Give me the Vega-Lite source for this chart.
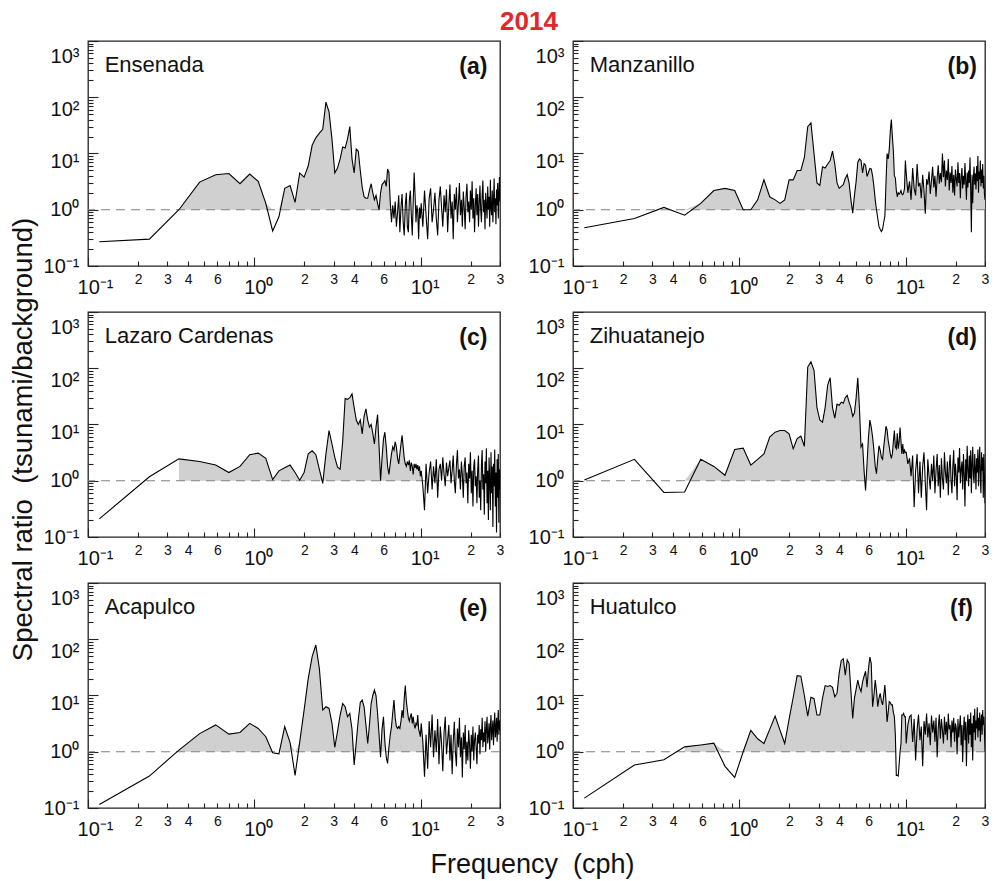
{
"$schema":"https://vega.github.io/schema/vega-lite/v6.json",
"background":"white",
"padding":{"left":8,"top":8,"right":5,"bottom":5},
"title":{"text":"2014","color":"#e3262b","fontSize":26,"fontWeight":"bold","font":"Liberation Sans","anchor":"middle","dx":30,"offset":-16,"baseline":"alphabetic"},
"bounds":"flush",
"columns":2,
"spacing":{"row":46,"column":73},
"datasets":{
"ensenada":[{"f":0.117,"v":0.27},{"f":0.234,"v":0.3},{"f":0.352,"v":1},{"f":0.469,"v":3.1},{"f":0.586,"v":4.2},{"f":0.703,"v":4.4},{"f":0.82,"v":2.9},{"f":0.938,"v":4.3},{"f":1.055,"v":3.2},{"f":1.172,"v":1.3},
{"f":1.289,"v":0.42},{"f":1.406,"v":0.75},{"f":1.523,"v":2.4},{"f":1.641,"v":2.7},{"f":1.758,"v":1.35},{"f":1.875,"v":4.5},{"f":1.992,"v":3.8},{"f":2.109,"v":6},{"f":2.227,"v":14},{"f":2.344,"v":19},
{"f":2.461,"v":23},{"f":2.578,"v":27},{"f":2.695,"v":82},{"f":2.813,"v":55},{"f":2.93,"v":18},{"f":3.047,"v":4.5},{"f":3.164,"v":5.5},{"f":3.281,"v":8},{"f":3.398,"v":13},{"f":3.516,"v":12.5},
{"f":3.633,"v":18},{"f":3.75,"v":30},{"f":3.867,"v":8},{"f":3.984,"v":4.5},{"f":4.102,"v":12},{"f":4.219,"v":11},{"f":4.336,"v":5},{"f":4.453,"v":2.5},{"f":4.57,"v":1.7},{"f":4.688,"v":1.6},
{"f":4.805,"v":1.6},{"f":4.922,"v":2.2},{"f":5.039,"v":2.9},{"f":5.156,"v":2},{"f":5.273,"v":1.5},{"f":5.391,"v":1.8},{"f":5.508,"v":1.3},{"f":5.625,"v":1},{"f":5.742,"v":2},{"f":5.859,"v":2.8},
{"f":5.977,"v":3},{"f":6.094,"v":3.3},{"f":6.211,"v":2.6},{"f":6.328,"v":5.3},{"f":6.445,"v":4.6},{"f":6.563,"v":1.4},{"f":6.68,"v":0.6},{"f":6.797,"v":1.2},{"f":6.914,"v":0.7},{"f":7.031,"v":1.4},
{"f":7.148,"v":0.5},{"f":7.266,"v":0.9},{"f":7.383,"v":1.8},{"f":7.5,"v":0.4},{"f":7.617,"v":1.1},{"f":7.734,"v":1.9},{"f":7.852,"v":0.6},{"f":7.969,"v":0.35},{"f":8.086,"v":1.2},{"f":8.203,"v":2},
{"f":8.32,"v":0.5},{"f":8.438,"v":0.4},{"f":8.555,"v":1.5},{"f":8.672,"v":2.2},{"f":8.789,"v":0.8},{"f":8.906,"v":0.35},{"f":9.023,"v":1.4},{"f":9.141,"v":4.6},{"f":9.258,"v":1.8},{"f":9.375,"v":0.6},
{"f":9.492,"v":1.2},{"f":9.609,"v":0.9},{"f":9.727,"v":0.3},{"f":9.844,"v":1.1},{"f":9.961,"v":0.7},
{"f":10.08,"v":1.3},{"f":10.31,"v":0.5},{"f":10.55,"v":2.2},{"f":10.78,"v":0.8},{"f":11.02,"v":0.3},{"f":11.25,"v":1.6},{"f":11.48,"v":2.4},{"f":11.72,"v":0.6},{"f":11.95,"v":1},{"f":12.19,"v":2},
{"f":12.42,"v":0.7},{"f":12.66,"v":0.35},{"f":12.89,"v":1.5},{"f":13.13,"v":2.6},{"f":13.36,"v":1.1},{"f":13.59,"v":0.5},{"f":13.83,"v":1.8},{"f":14.06,"v":0.9},{"f":14.3,"v":2.3},{"f":14.53,"v":0.4},
{"f":14.77,"v":1.2},{"f":15,"v":2.8},{"f":15.23,"v":0.7},{"f":15.47,"v":1.4},{"f":15.7,"v":0.3},{"f":15.94,"v":1.9},{"f":16.17,"v":1},{"f":16.41,"v":2.5},{"f":16.64,"v":0.6},{"f":16.88,"v":1.3},
{"f":17.11,"v":3},{"f":17.34,"v":0.8},{"f":17.58,"v":1.5},{"f":17.81,"v":0.5},{"f":18.05,"v":2.1},{"f":18.28,"v":1.1},{"f":18.52,"v":0.45},{"f":18.75,"v":1.7},{"f":18.98,"v":2.9},{"f":19.22,"v":0.9},
{"f":19.45,"v":1.4},{"f":19.69,"v":0.6},{"f":19.92,"v":2.2},{"f":20.16,"v":1},{"f":20.39,"v":3.2},{"f":20.63,"v":0.7},{"f":20.86,"v":1.6},{"f":21.09,"v":0.4},{"f":21.33,"v":1.2},{"f":21.56,"v":2.4},
{"f":21.8,"v":0.8},{"f":22.03,"v":1.9},{"f":22.27,"v":0.5},{"f":22.5,"v":1.3},{"f":22.73,"v":2.7},{"f":22.97,"v":1},{"f":23.2,"v":0.6},{"f":23.44,"v":1.8},{"f":23.67,"v":3.3},{"f":23.91,"v":0.9},
{"f":24.14,"v":1.5},{"f":24.38,"v":0.45},{"f":24.61,"v":2},{"f":24.84,"v":1.2},{"f":25.08,"v":0.7},{"f":25.31,"v":2.6},{"f":25.55,"v":1},{"f":25.78,"v":1.7},{"f":26.02,"v":0.5},{"f":26.25,"v":3.4},
{"f":26.48,"v":1.1},{"f":26.72,"v":0.8},{"f":26.95,"v":2.2},{"f":27.19,"v":0.6},{"f":27.42,"v":1.4},{"f":27.66,"v":3.6},{"f":27.89,"v":0.9},{"f":28.13,"v":1.6},{"f":28.36,"v":0.55},{"f":28.59,"v":2.3},
{"f":28.83,"v":1.2},{"f":29.06,"v":3},{"f":29.3,"v":0.7},{"f":29.53,"v":1.8},{"f":29.77,"v":3.8},{"f":30,"v":1.4}],
"manzanillo":[{"f":0.117,"v":0.48},{"f":0.234,"v":0.7},{"f":0.352,"v":1.1},{"f":0.469,"v":0.8},{"f":0.586,"v":1.3},{"f":0.703,"v":2.2},{"f":0.82,"v":2.4},{"f":0.938,"v":2.2},{"f":1.055,"v":1},{"f":1.172,"v":1},
{"f":1.289,"v":1.5},{"f":1.406,"v":3.4},{"f":1.523,"v":1.7},{"f":1.641,"v":1.5},{"f":1.758,"v":1.3},{"f":1.875,"v":1.5},{"f":1.992,"v":3.4},{"f":2.109,"v":3.4},{"f":2.227,"v":5},{"f":2.344,"v":5},
{"f":2.461,"v":8.5},{"f":2.578,"v":30},{"f":2.695,"v":35},{"f":2.813,"v":10},{"f":2.93,"v":3},{"f":3.047,"v":2.7},{"f":3.164,"v":5.8},{"f":3.281,"v":5.5},{"f":3.398,"v":6.5},{"f":3.516,"v":7.5},
{"f":3.633,"v":11},{"f":3.75,"v":6.5},{"f":3.867,"v":3},{"f":3.984,"v":2.4},{"f":4.102,"v":2.6},{"f":4.219,"v":2.8},{"f":4.336,"v":3.6},{"f":4.453,"v":4.2},{"f":4.57,"v":3},{"f":4.688,"v":1.5},
{"f":4.805,"v":0.87},{"f":4.922,"v":1.8},{"f":5.039,"v":3.2},{"f":5.156,"v":7},{"f":5.273,"v":8},{"f":5.391,"v":7.5},{"f":5.508,"v":4.5},{"f":5.625,"v":6.6},{"f":5.742,"v":6.2},{"f":5.859,"v":3.9},
{"f":5.977,"v":4.6},{"f":6.094,"v":5.4},{"f":6.211,"v":5.3},{"f":6.328,"v":4},{"f":6.445,"v":2.6},{"f":6.563,"v":1.5},{"f":6.68,"v":1},{"f":6.797,"v":0.7},{"f":6.914,"v":0.5},{"f":7.031,"v":0.45},
{"f":7.148,"v":0.41},{"f":7.266,"v":0.45},{"f":7.383,"v":0.6},{"f":7.5,"v":0.76},{"f":7.617,"v":3},{"f":7.734,"v":10},{"f":7.852,"v":8},{"f":7.969,"v":11.7},{"f":8.086,"v":25},{"f":8.203,"v":40},
{"f":8.32,"v":20},{"f":8.438,"v":11},{"f":8.555,"v":4},{"f":8.672,"v":3.7},{"f":8.789,"v":2.2},{"f":8.906,"v":1.7},{"f":9.023,"v":2},{"f":9.141,"v":1.9},{"f":9.258,"v":2},{"f":9.375,"v":2.2},
{"f":9.492,"v":1.9},{"f":9.609,"v":1.85},{"f":9.727,"v":2},{"f":9.844,"v":2.4},{"f":9.961,"v":7.5},
{"f":10.08,"v":4.5},{"f":10.31,"v":2},{"f":10.55,"v":3.2},{"f":10.78,"v":1.5},{"f":11.02,"v":5.5},{"f":11.25,"v":2.4},{"f":11.48,"v":1.8},{"f":11.72,"v":6.5},{"f":11.95,"v":2.6},{"f":12.19,"v":3},
{"f":12.42,"v":1.6},{"f":12.66,"v":4.2},{"f":12.89,"v":2.2},{"f":13.13,"v":0.85},{"f":13.36,"v":3.5},{"f":13.59,"v":2.8},{"f":13.83,"v":4.8},{"f":14.06,"v":1.9},{"f":14.3,"v":3.3},{"f":14.53,"v":5.8},
{"f":14.77,"v":2.5},{"f":15,"v":4},{"f":15.23,"v":1.7},{"f":15.47,"v":3.6},{"f":15.7,"v":6.2},{"f":15.94,"v":2.9},{"f":16.17,"v":4.5},{"f":16.41,"v":3.1},{"f":16.64,"v":10},{"f":16.88,"v":3.8},
{"f":17.11,"v":7.5},{"f":17.34,"v":2.6},{"f":17.58,"v":5},{"f":17.81,"v":3.4},{"f":18.05,"v":8},{"f":18.28,"v":2.2},{"f":18.52,"v":4.6},{"f":18.75,"v":3},{"f":18.98,"v":6},{"f":19.22,"v":2},
{"f":19.45,"v":4.2},{"f":19.69,"v":1.8},{"f":19.92,"v":5.2},{"f":20.16,"v":3.5},{"f":20.39,"v":2.6},{"f":20.63,"v":7},{"f":20.86,"v":3},{"f":21.09,"v":4.5},{"f":21.33,"v":1.6},{"f":21.56,"v":3.8},
{"f":21.8,"v":5.5},{"f":22.03,"v":2.4},{"f":22.27,"v":4},{"f":22.5,"v":2.8},{"f":22.73,"v":6.8},{"f":22.97,"v":3.2},{"f":23.2,"v":1.5},{"f":23.44,"v":4.6},{"f":23.67,"v":2.5},{"f":23.91,"v":5},
{"f":24.14,"v":3},{"f":24.38,"v":8.5},{"f":24.61,"v":2.2},{"f":24.84,"v":0.4},{"f":25.08,"v":4.2},{"f":25.31,"v":1.3},{"f":25.55,"v":3.6},{"f":25.78,"v":5.8},{"f":26.02,"v":2.8},{"f":26.25,"v":4.4},
{"f":26.48,"v":2.3},{"f":26.72,"v":6},{"f":26.95,"v":3.2},{"f":27.19,"v":9},{"f":27.42,"v":2},{"f":27.66,"v":4.8},{"f":27.89,"v":3.5},{"f":28.13,"v":7.5},{"f":28.36,"v":2.6},{"f":28.59,"v":5.2},
{"f":28.83,"v":3},{"f":29.06,"v":6.5},{"f":29.3,"v":2.4},{"f":29.53,"v":4},{"f":29.77,"v":1.9},{"f":30,"v":1.5}],
"lazaro":[{"f":0.117,"v":0.21},{"f":0.234,"v":1.18},{"f":0.352,"v":2.45},{"f":0.469,"v":2.2},{"f":0.586,"v":1.9},{"f":0.703,"v":1.4},{"f":0.82,"v":1.8},{"f":0.938,"v":2.9},{"f":1.055,"v":3.1},{"f":1.172,"v":2.5},
{"f":1.289,"v":1.05},{"f":1.406,"v":1.5},{"f":1.523,"v":1.7},{"f":1.641,"v":1.9},{"f":1.758,"v":1.4},{"f":1.875,"v":1.02},{"f":1.992,"v":1.4},{"f":2.109,"v":3},{"f":2.227,"v":3.4},{"f":2.344,"v":2.9},
{"f":2.461,"v":1.6},{"f":2.578,"v":0.9},{"f":2.695,"v":3},{"f":2.813,"v":7.8},{"f":2.93,"v":4.5},{"f":3.047,"v":2.6},{"f":3.164,"v":1.75},{"f":3.281,"v":1.6},{"f":3.398,"v":5},{"f":3.516,"v":29},
{"f":3.633,"v":28},{"f":3.75,"v":30},{"f":3.867,"v":35},{"f":3.984,"v":20},{"f":4.102,"v":12},{"f":4.219,"v":10},{"f":4.336,"v":12},{"f":4.453,"v":6.8},{"f":4.57,"v":14},{"f":4.688,"v":19},
{"f":4.805,"v":12},{"f":4.922,"v":9},{"f":5.039,"v":10},{"f":5.156,"v":7},{"f":5.273,"v":4.5},{"f":5.391,"v":9},{"f":5.508,"v":15},{"f":5.625,"v":4},{"f":5.742,"v":1},{"f":5.859,"v":2.5},
{"f":5.977,"v":5.5},{"f":6.094,"v":7.3},{"f":6.211,"v":4},{"f":6.328,"v":1.8},{"f":6.445,"v":1.3},{"f":6.563,"v":2},{"f":6.68,"v":3},{"f":6.797,"v":4},{"f":6.914,"v":3.5},{"f":7.031,"v":4.9},
{"f":7.148,"v":4},{"f":7.266,"v":2.5},{"f":7.383,"v":2},{"f":7.5,"v":3},{"f":7.617,"v":4.5},{"f":7.734,"v":6.4},{"f":7.852,"v":4},{"f":7.969,"v":2.5},{"f":8.086,"v":2},{"f":8.203,"v":1.8},
{"f":8.32,"v":2.2},{"f":8.438,"v":1.9},{"f":8.555,"v":2.3},{"f":8.672,"v":1.5},{"f":8.789,"v":2.1},{"f":8.906,"v":1.8},{"f":9.023,"v":1.3},{"f":9.141,"v":2},{"f":9.258,"v":1.7},{"f":9.375,"v":2},
{"f":9.492,"v":1.6},{"f":9.609,"v":1.9},{"f":9.727,"v":1.5},{"f":9.844,"v":1.8},{"f":9.961,"v":1.2},
{"f":10.08,"v":1.5},{"f":10.31,"v":0.8},{"f":10.55,"v":0.3},{"f":10.78,"v":2},{"f":11.02,"v":0.6},{"f":11.25,"v":1.4},{"f":11.48,"v":2.2},{"f":11.72,"v":0.7},{"f":11.95,"v":1.8},{"f":12.19,"v":0.9},
{"f":12.42,"v":2.4},{"f":12.66,"v":0.5},{"f":12.89,"v":1.6},{"f":13.13,"v":2},{"f":13.36,"v":1},{"f":13.59,"v":2.6},{"f":13.83,"v":1.3},{"f":14.06,"v":0.8},{"f":14.3,"v":2.1},{"f":14.53,"v":1.2},
{"f":14.77,"v":1.7},{"f":15,"v":2.3},{"f":15.23,"v":0.9},{"f":15.47,"v":1.5},{"f":15.7,"v":2.8},{"f":15.94,"v":1},{"f":16.17,"v":0.6},{"f":16.41,"v":1.9},{"f":16.64,"v":3.5},{"f":16.88,"v":1.1},
{"f":17.11,"v":1.6},{"f":17.34,"v":0.7},{"f":17.58,"v":2.2},{"f":17.81,"v":1.3},{"f":18.05,"v":0.5},{"f":18.28,"v":1.8},{"f":18.52,"v":2.6},{"f":18.75,"v":0.9},{"f":18.98,"v":1.4},{"f":19.22,"v":0.4},
{"f":19.45,"v":2},{"f":19.69,"v":1.1},{"f":19.92,"v":3.2},{"f":20.16,"v":0.6},{"f":20.39,"v":1.5},{"f":20.63,"v":0.35},{"f":20.86,"v":1.8},{"f":21.09,"v":2.4},{"f":21.33,"v":0.8},{"f":21.56,"v":1.2},
{"f":21.8,"v":0.4},{"f":22.03,"v":1.6},{"f":22.27,"v":2.8},{"f":22.5,"v":0.5},{"f":22.73,"v":1},{"f":22.97,"v":0.3},{"f":23.2,"v":1.9},{"f":23.44,"v":3.5},{"f":23.67,"v":0.7},{"f":23.91,"v":1.3},
{"f":24.14,"v":0.25},{"f":24.38,"v":2.2},{"f":24.61,"v":0.9},{"f":24.84,"v":3.8},{"f":25.08,"v":0.4},{"f":25.31,"v":1.5},{"f":25.55,"v":0.2},{"f":25.78,"v":2.6},{"f":26.02,"v":1},{"f":26.25,"v":0.3},
{"f":26.48,"v":3.2},{"f":26.72,"v":0.6},{"f":26.95,"v":1.8},{"f":27.19,"v":0.15},{"f":27.42,"v":2},{"f":27.66,"v":0.8},{"f":27.89,"v":3.6},{"f":28.13,"v":0.35},{"f":28.36,"v":1.4},{"f":28.59,"v":0.12},
{"f":28.83,"v":2.4},{"f":29.06,"v":0.5},{"f":29.3,"v":3},{"f":29.53,"v":0.18},{"f":29.77,"v":1.6},{"f":30,"v":0.7}],
"zihuatanejo":[{"f":0.117,"v":1.03},{"f":0.234,"v":2.4},{"f":0.352,"v":0.62},{"f":0.469,"v":0.63},{"f":0.586,"v":2.4},{"f":0.703,"v":1.8},{"f":0.82,"v":1.25},{"f":0.938,"v":3.6},{"f":1.055,"v":3.8},{"f":1.172,"v":1.9},
{"f":1.289,"v":2.4},{"f":1.406,"v":3},{"f":1.523,"v":6},{"f":1.641,"v":7.3},{"f":1.758,"v":7.8},{"f":1.875,"v":7.8},{"f":1.992,"v":6.8},{"f":2.109,"v":3.7},{"f":2.227,"v":5.6},{"f":2.344,"v":6.2},
{"f":2.461,"v":4.1},{"f":2.578,"v":105},{"f":2.695,"v":130},{"f":2.813,"v":92},{"f":2.93,"v":20},{"f":3.047,"v":12},{"f":3.164,"v":11},{"f":3.281,"v":20},{"f":3.398,"v":50},{"f":3.516,"v":68},
{"f":3.633,"v":20},{"f":3.75,"v":13},{"f":3.867,"v":23},{"f":3.984,"v":22},{"f":4.102,"v":25},{"f":4.219,"v":24},{"f":4.336,"v":30},{"f":4.453,"v":33},{"f":4.57,"v":25},{"f":4.688,"v":20},
{"f":4.805,"v":14},{"f":4.922,"v":16},{"f":5.039,"v":30},{"f":5.156,"v":68},{"f":5.273,"v":20},{"f":5.391,"v":4},{"f":5.508,"v":4.5},{"f":5.625,"v":1.5},{"f":5.742,"v":0.67},{"f":5.859,"v":2},
{"f":5.977,"v":6},{"f":6.094,"v":12},{"f":6.211,"v":9},{"f":6.328,"v":6},{"f":6.445,"v":3.5},{"f":6.563,"v":1.8},{"f":6.68,"v":1.33},{"f":6.797,"v":2.5},{"f":6.914,"v":4.2},{"f":7.031,"v":3.5},
{"f":7.148,"v":2.6},{"f":7.266,"v":2.4},{"f":7.383,"v":4},{"f":7.5,"v":6},{"f":7.617,"v":9.3},{"f":7.734,"v":8},{"f":7.852,"v":5.2},{"f":7.969,"v":4},{"f":8.086,"v":3},{"f":8.203,"v":2.5},
{"f":8.32,"v":3},{"f":8.438,"v":5},{"f":8.555,"v":7.8},{"f":8.672,"v":4},{"f":8.789,"v":3.7},{"f":8.906,"v":7},{"f":9.023,"v":3.7},{"f":9.141,"v":5},{"f":9.258,"v":8.8},{"f":9.375,"v":5},
{"f":9.492,"v":3},{"f":9.609,"v":4.5},{"f":9.727,"v":3},{"f":9.844,"v":3.5},{"f":9.961,"v":3.2},
{"f":10.08,"v":3.2},{"f":10.31,"v":2},{"f":10.55,"v":2.5},{"f":10.78,"v":1.2},{"f":11.02,"v":2.8},{"f":11.25,"v":0.34},{"f":11.48,"v":1.5},{"f":11.72,"v":3},{"f":11.95,"v":0.6},{"f":12.19,"v":2.2},
{"f":12.42,"v":0.5},{"f":12.66,"v":1.8},{"f":12.89,"v":3.2},{"f":13.13,"v":0.9},{"f":13.36,"v":0.3},{"f":13.59,"v":2.4},{"f":13.83,"v":1.2},{"f":14.06,"v":0.7},{"f":14.3,"v":2},{"f":14.53,"v":1},
{"f":14.77,"v":2.8},{"f":15,"v":0.6},{"f":15.23,"v":1.5},{"f":15.47,"v":3},{"f":15.7,"v":0.8},{"f":15.94,"v":1.9},{"f":16.17,"v":0.5},{"f":16.41,"v":2.5},{"f":16.64,"v":1.1},{"f":16.88,"v":0.7},
{"f":17.11,"v":3.2},{"f":17.34,"v":1.4},{"f":17.58,"v":0.9},{"f":17.81,"v":2.2},{"f":18.05,"v":0.55},{"f":18.28,"v":1.7},{"f":18.52,"v":2.9},{"f":18.75,"v":1},{"f":18.98,"v":0.6},{"f":19.22,"v":1.8},
{"f":19.45,"v":3.5},{"f":19.69,"v":0.8},{"f":19.92,"v":2},{"f":20.16,"v":1.2},{"f":20.39,"v":0.45},{"f":20.63,"v":2.6},{"f":20.86,"v":1.4},{"f":21.09,"v":3.8},{"f":21.33,"v":0.9},{"f":21.56,"v":1.6},
{"f":21.8,"v":2.2},{"f":22.03,"v":0.7},{"f":22.27,"v":3},{"f":22.5,"v":1.3},{"f":22.73,"v":0.35},{"f":22.97,"v":2.4},{"f":23.2,"v":1},{"f":23.44,"v":4.2},{"f":23.67,"v":1.5},{"f":23.91,"v":0.8},
{"f":24.14,"v":2.8},{"f":24.38,"v":1.1},{"f":24.61,"v":3.5},{"f":24.84,"v":0.6},{"f":25.08,"v":2},{"f":25.31,"v":4},{"f":25.55,"v":1.2},{"f":25.78,"v":0.9},{"f":26.02,"v":3},{"f":26.25,"v":1.6},
{"f":26.48,"v":0.7},{"f":26.72,"v":2.5},{"f":26.95,"v":1.4},{"f":27.19,"v":3.6},{"f":27.42,"v":0.8},{"f":27.66,"v":2.2},{"f":27.89,"v":4},{"f":28.13,"v":1},{"f":28.36,"v":0.6},{"f":28.59,"v":3.2},
{"f":28.83,"v":1.5},{"f":29.06,"v":2.6},{"f":29.3,"v":0.5},{"f":29.53,"v":3},{"f":29.77,"v":1.2},{"f":30,"v":0.4}],
"acapulco":[{"f":0.117,"v":0.115},{"f":0.234,"v":0.37},{"f":0.352,"v":1.07},{"f":0.469,"v":2.1},{"f":0.586,"v":3},{"f":0.703,"v":2.06},{"f":0.82,"v":2.2},{"f":0.938,"v":3.2},{"f":1.055,"v":2.6},{"f":1.172,"v":1.85},
{"f":1.289,"v":0.96},{"f":1.406,"v":0.92},{"f":1.523,"v":2.8},{"f":1.641,"v":1.45},{"f":1.758,"v":0.38},{"f":1.875,"v":1.5},{"f":1.992,"v":5.5},{"f":2.109,"v":20},{"f":2.227,"v":49},{"f":2.344,"v":79},
{"f":2.461,"v":30},{"f":2.578,"v":5.5},{"f":2.695,"v":6.3},{"f":2.813,"v":5.9},{"f":2.93,"v":3.2},{"f":3.047,"v":1.2},{"f":3.164,"v":2.3},{"f":3.281,"v":4.5},{"f":3.398,"v":7.2},{"f":3.516,"v":6.3},
{"f":3.633,"v":4.2},{"f":3.75,"v":4.8},{"f":3.867,"v":2.5},{"f":3.984,"v":0.58},{"f":4.102,"v":1.5},{"f":4.219,"v":3.7},{"f":4.336,"v":7.5},{"f":4.453,"v":8.3},{"f":4.57,"v":6.3},{"f":4.688,"v":3},
{"f":4.805,"v":1.4},{"f":4.922,"v":3},{"f":5.039,"v":7.2},{"f":5.156,"v":10},{"f":5.273,"v":12.5},{"f":5.391,"v":10},{"f":5.508,"v":4.8},{"f":5.625,"v":2},{"f":5.742,"v":0.8},{"f":5.859,"v":2.5},
{"f":5.977,"v":4.2},{"f":6.094,"v":1.5},{"f":6.211,"v":0.8},{"f":6.328,"v":0.62},{"f":6.445,"v":1.2},{"f":6.563,"v":2},{"f":6.68,"v":2.8},{"f":6.797,"v":5},{"f":6.914,"v":8.3},{"f":7.031,"v":4},
{"f":7.148,"v":2.8},{"f":7.266,"v":2.6},{"f":7.383,"v":2.8},{"f":7.5,"v":2.6},{"f":7.617,"v":3.5},{"f":7.734,"v":5.5},{"f":7.852,"v":4},{"f":7.969,"v":9},{"f":8.086,"v":15},{"f":8.203,"v":8},
{"f":8.32,"v":5.5},{"f":8.438,"v":4},{"f":8.555,"v":3.5},{"f":8.672,"v":4.2},{"f":8.789,"v":4.8},{"f":8.906,"v":3.2},{"f":9.023,"v":4.2},{"f":9.141,"v":3},{"f":9.258,"v":2.6},{"f":9.375,"v":3.2},
{"f":9.492,"v":3},{"f":9.609,"v":4.5},{"f":9.727,"v":2.5},{"f":9.844,"v":2.2},{"f":9.961,"v":1.85},
{"f":10.08,"v":3.2},{"f":10.31,"v":1.5},{"f":10.55,"v":0.36},{"f":10.78,"v":2},{"f":11.02,"v":0.5},{"f":11.25,"v":3.5},{"f":11.48,"v":1.2},{"f":11.72,"v":4.6},{"f":11.95,"v":0.8},{"f":12.19,"v":2.4},
{"f":12.42,"v":1},{"f":12.66,"v":3.8},{"f":12.89,"v":0.6},{"f":13.13,"v":2.8},{"f":13.36,"v":1.4},{"f":13.59,"v":0.45},{"f":13.83,"v":2.2},{"f":14.06,"v":4.2},{"f":14.3,"v":0.9},{"f":14.53,"v":1.6},
{"f":14.77,"v":3},{"f":15,"v":0.7},{"f":15.23,"v":2},{"f":15.47,"v":0.4},{"f":15.7,"v":1.5},{"f":15.94,"v":3.4},{"f":16.17,"v":1},{"f":16.41,"v":0.55},{"f":16.64,"v":2.6},{"f":16.88,"v":1.2},
{"f":17.11,"v":4},{"f":17.34,"v":0.8},{"f":17.58,"v":1.8},{"f":17.81,"v":0.35},{"f":18.05,"v":2.2},{"f":18.28,"v":1.1},{"f":18.52,"v":3},{"f":18.75,"v":0.6},{"f":18.98,"v":1.5},{"f":19.22,"v":0.7},
{"f":19.45,"v":2.4},{"f":19.69,"v":1.3},{"f":19.92,"v":0.5},{"f":20.16,"v":2},{"f":20.39,"v":1},{"f":20.63,"v":2.8},{"f":20.86,"v":0.7},{"f":21.09,"v":1.6},{"f":21.33,"v":2.2},{"f":21.56,"v":1.2},
{"f":21.8,"v":0.6},{"f":22.03,"v":2},{"f":22.27,"v":1.4},{"f":22.5,"v":3},{"f":22.73,"v":0.9},{"f":22.97,"v":2.5},{"f":23.2,"v":1.6},{"f":23.44,"v":4},{"f":23.67,"v":1.2},{"f":23.91,"v":2.2},
{"f":24.14,"v":1.5},{"f":24.38,"v":3.5},{"f":24.61,"v":1},{"f":24.84,"v":2.6},{"f":25.08,"v":4.2},{"f":25.31,"v":1.4},{"f":25.55,"v":2},{"f":25.78,"v":3.2},{"f":26.02,"v":1.1},{"f":26.25,"v":2.8},
{"f":26.48,"v":4.5},{"f":26.72,"v":1.6},{"f":26.95,"v":2.4},{"f":27.19,"v":3.6},{"f":27.42,"v":1.3},{"f":27.66,"v":2.9},{"f":27.89,"v":5},{"f":28.13,"v":1.8},{"f":28.36,"v":2.5},{"f":28.59,"v":4},
{"f":28.83,"v":1.5},{"f":29.06,"v":3.2},{"f":29.3,"v":5.5},{"f":29.53,"v":2},{"f":29.77,"v":3.6},{"f":30,"v":2.4}],
"huatulco":[{"f":0.117,"v":0.15},{"f":0.234,"v":0.58},{"f":0.352,"v":0.72},{"f":0.469,"v":1.22},{"f":0.586,"v":1.32},{"f":0.703,"v":1.42},{"f":0.82,"v":0.55},{"f":0.938,"v":0.35},{"f":1.055,"v":1},{"f":1.172,"v":2.4},
{"f":1.289,"v":1.7},{"f":1.406,"v":1.4},{"f":1.523,"v":2.5},{"f":1.641,"v":4.3},{"f":1.758,"v":2.4},{"f":1.875,"v":1.4},{"f":1.992,"v":3.8},{"f":2.109,"v":9.3},{"f":2.227,"v":22.5},{"f":2.344,"v":22},
{"f":2.461,"v":10},{"f":2.578,"v":4.3},{"f":2.695,"v":9.3},{"f":2.813,"v":8.8},{"f":2.93,"v":4.5},{"f":3.047,"v":4.5},{"f":3.164,"v":9},{"f":3.281,"v":15},{"f":3.398,"v":14.5},{"f":3.516,"v":15},
{"f":3.633,"v":14},{"f":3.75,"v":9.5},{"f":3.867,"v":11},{"f":3.984,"v":25},{"f":4.102,"v":42},{"f":4.219,"v":45},{"f":4.336,"v":23},{"f":4.453,"v":43},{"f":4.57,"v":37},{"f":4.688,"v":12},
{"f":4.805,"v":3.9},{"f":4.922,"v":9},{"f":5.039,"v":13},{"f":5.156,"v":18.8},{"f":5.273,"v":14},{"f":5.391,"v":11.7},{"f":5.508,"v":17.5},{"f":5.625,"v":22},{"f":5.742,"v":27},{"f":5.859,"v":14},
{"f":5.977,"v":30},{"f":6.094,"v":48},{"f":6.211,"v":37},{"f":6.328,"v":6.3},{"f":6.445,"v":10},{"f":6.563,"v":18.8},{"f":6.68,"v":12},{"f":6.797,"v":6.3},{"f":6.914,"v":9},{"f":7.031,"v":10.9},
{"f":7.148,"v":8},{"f":7.266,"v":6.8},{"f":7.383,"v":10},{"f":7.5,"v":15.3},{"f":7.617,"v":8},{"f":7.734,"v":3.4},{"f":7.852,"v":5},{"f":7.969,"v":7.8},{"f":8.086,"v":7.5},{"f":8.203,"v":6.8},
{"f":8.32,"v":6.8},{"f":8.438,"v":5},{"f":8.555,"v":4.2},{"f":8.672,"v":2},{"f":8.789,"v":0.38},{"f":8.906,"v":0.38},{"f":9.023,"v":0.37},{"f":9.141,"v":0.6},{"f":9.258,"v":1},{"f":9.375,"v":1.4},
{"f":9.492,"v":4.5},{"f":9.609,"v":4.5},{"f":9.727,"v":4.8},{"f":9.844,"v":4.2},{"f":9.961,"v":4.2},
{"f":10.08,"v":1.4},{"f":10.31,"v":3},{"f":10.55,"v":4.2},{"f":10.78,"v":4.5},{"f":11.02,"v":1.5},{"f":11.25,"v":3.8},{"f":11.48,"v":0.7},{"f":11.72,"v":2.5},{"f":11.95,"v":4.6},{"f":12.19,"v":1.6},
{"f":12.42,"v":2.8},{"f":12.66,"v":0.55},{"f":12.89,"v":3.5},{"f":13.13,"v":2},{"f":13.36,"v":4.8},{"f":13.59,"v":1.8},{"f":13.83,"v":3.2},{"f":14.06,"v":1.3},{"f":14.3,"v":4.4},{"f":14.53,"v":2.2},
{"f":14.77,"v":3.6},{"f":15,"v":1.5},{"f":15.23,"v":4},{"f":15.47,"v":0.8},{"f":15.7,"v":2.6},{"f":15.94,"v":4.6},{"f":16.17,"v":1.7},{"f":16.41,"v":3.8},{"f":16.64,"v":2.4},{"f":16.88,"v":1.4},
{"f":17.11,"v":4.2},{"f":17.34,"v":2},{"f":17.58,"v":3.4},{"f":17.81,"v":1.6},{"f":18.05,"v":4.8},{"f":18.28,"v":2.5},{"f":18.52,"v":3},{"f":18.75,"v":1.2},{"f":18.98,"v":3.6},{"f":19.22,"v":2.2},
{"f":19.45,"v":4},{"f":19.69,"v":1.5},{"f":19.92,"v":3.2},{"f":20.16,"v":2.6},{"f":20.39,"v":0.9},{"f":20.63,"v":3.8},{"f":20.86,"v":1.8},{"f":21.09,"v":2.8},{"f":21.33,"v":4.4},{"f":21.56,"v":1.3},
{"f":21.8,"v":3},{"f":22.03,"v":0.65},{"f":22.27,"v":2.4},{"f":22.5,"v":4.2},{"f":22.73,"v":1.6},{"f":22.97,"v":3.4},{"f":23.2,"v":0.55},{"f":23.44,"v":2.6},{"f":23.67,"v":4.6},{"f":23.91,"v":1.4},
{"f":24.14,"v":3.8},{"f":24.38,"v":2},{"f":24.61,"v":5},{"f":24.84,"v":1.2},{"f":25.08,"v":3.2},{"f":25.31,"v":0.7},{"f":25.55,"v":4.4},{"f":25.78,"v":2.2},{"f":26.02,"v":5.8},{"f":26.25,"v":1.6},
{"f":26.48,"v":3.6},{"f":26.72,"v":2.6},{"f":26.95,"v":6.2},{"f":27.19,"v":1.8},{"f":27.42,"v":4},{"f":27.66,"v":2.4},{"f":27.89,"v":5},{"f":28.13,"v":1.5},{"f":28.36,"v":3.4},{"f":28.59,"v":4.6},
{"f":28.83,"v":2},{"f":29.06,"v":5.5},{"f":29.3,"v":3},{"f":29.53,"v":4.2},{"f":29.77,"v":2.4},{"f":30,"v":1}]
},
"concat":[
{"width":412,"height":225,"data":{"name":"ensenada"},"resolve":{"scale":{"y":"independent"},"axis":{"x":"independent"}},
"layer":[
{"transform":[{"filter":"datum.f>=0.34&&datum.f<=6.6"}],"mark":{"type":"area","color":"#d0d0d0","clip":true},
"encoding":{"x":{"field":"f","type":"quantitative","scale":{"type":"log","domain":[0.1,30],"nice":false},"axis":{"orient":"bottom","values":[0.2,0.3,0.4,0.5,0.6,0.7,0.8,0.9,2,3,4,5,6,7,8,9,20,30],"labelExpr":"(datum.value==0.2||datum.value==2||datum.value==20)?'2':(datum.value==0.3||datum.value==3||datum.value==30)?'3':(datum.value==0.4||datum.value==4)?'4':(datum.value==0.6||datum.value==6)?'6':''","tickSize":5,"offset":-5,"labelFontSize":14,"labelPadding":6,"labelOverlap":false,"labelBound":false,"labelFlush":false,"title":null}},"y":{"field":"v","type":"quantitative","scale":{"type":"log","domain":[1,1000],"nice":false,"range":[168.75,0],"clamp":true},"axis":null},"y2":{"datum":1}}},
{"data":{"values":[{}]},"mark":{"type":"rule","color":"#808080","strokeDash":[9,6],"strokeWidth":1},"encoding":{"y":{"datum":1,"type":"quantitative","scale":{"type":"log","domain":[0.1,1000],"nice":false},"axis":{"orient":"left","values":[0.2,0.3,0.4,0.5,0.6,0.7,0.8,0.9,2,3,4,5,6,7,8,9,20,30,40,50,60,70,80,90,200,300,400,500,600,700,800,900],"tickSize":5,"offset":-5,"labels":false,"title":null}}}},
{"mark":{"type":"line","color":"#000","strokeWidth":1.1,"clip":true},
"encoding":{"x":{"field":"f","type":"quantitative","scale":{"type":"log","domain":[0.1,30],"nice":false},"axis":{"orient":"bottom","values":[0.1,1,10],"labelExpr":"datum.value==0.1?'10⁻¹':datum.value==1?'10⁰':'10¹'","tickSize":9,"offset":-9,"labelFontSize":20,"labelPadding":11,"labelOffset":{"condition":{"test":"datum.value==0.1","value":7},"value":4},"labelBaseline":"top","labelOverlap":false,"labelBound":false,"labelFlush":false,"title":null}},
"y":{"field":"v","type":"quantitative","scale":{"type":"log","domain":[0.1,1000],"nice":false},"axis":{"orient":"left","values":[0.1,1,10,100,1000],"labelExpr":"datum.value==0.1?'10⁻¹':datum.value==1?'10⁰':datum.value==10?'10¹':datum.value==100?'10²':'10³'","tickSize":10,"offset":-10,"labelFontSize":20,"labelPadding":9,"labelOffset":{"condition":[{"test":"datum.value==1000","value":15},{"test":"datum.value==100","value":12},{"test":"datum.value==10","value":8}],"value":0},"labelAlign":"right","labelBaseline":"middle","labelOverlap":false,"labelBound":false,"labelFlush":false,"title":null}}}},
{"data":{"values":[{}]},"mark":{"type":"text","text":"Ensenada","fontSize":22,"align":"left","baseline":"alphabetic"},"encoding":{"x":{"datum":0.126,"type":"quantitative","axis":null},"y":{"datum":281,"type":"quantitative","scale":{"type":"log","domain":[0.1,1000],"nice":false},"axis":null}}},
{"data":{"values":[{}]},"mark":{"type":"text","text":"(a)","fontSize":23,"fontWeight":"bold","align":"right","baseline":"alphabetic"},"encoding":{"x":{"datum":25.2,"type":"quantitative","axis":null},"y":{"datum":259,"type":"quantitative","scale":{"type":"log","domain":[0.1,1000],"nice":false},"axis":null}}}
]},
{"width":412,"height":225,"data":{"name":"manzanillo"},"resolve":{"scale":{"y":"independent"},"axis":{"x":"independent"}},
"layer":[
{"transform":[{"filter":"datum.f>=0.46"}],"mark":{"type":"area","color":"#d0d0d0","clip":true},
"encoding":{"x":{"field":"f","type":"quantitative","scale":{"type":"log","domain":[0.1,30],"nice":false},"axis":{"orient":"bottom","values":[0.2,0.3,0.4,0.5,0.6,0.7,0.8,0.9,2,3,4,5,6,7,8,9,20,30],"labelExpr":"(datum.value==0.2||datum.value==2||datum.value==20)?'2':(datum.value==0.3||datum.value==3||datum.value==30)?'3':(datum.value==0.4||datum.value==4)?'4':(datum.value==0.6||datum.value==6)?'6':''","tickSize":5,"offset":-5,"labelFontSize":14,"labelPadding":6,"labelOverlap":false,"labelBound":false,"labelFlush":false,"title":null}},"y":{"field":"v","type":"quantitative","scale":{"type":"log","domain":[1,1000],"nice":false,"range":[168.75,0],"clamp":true},"axis":null},"y2":{"datum":1}}},
{"data":{"values":[{}]},"mark":{"type":"rule","color":"#808080","strokeDash":[9,6],"strokeWidth":1},"encoding":{"y":{"datum":1,"type":"quantitative","scale":{"type":"log","domain":[0.1,1000],"nice":false},"axis":{"orient":"left","values":[0.2,0.3,0.4,0.5,0.6,0.7,0.8,0.9,2,3,4,5,6,7,8,9,20,30,40,50,60,70,80,90,200,300,400,500,600,700,800,900],"tickSize":5,"offset":-5,"labels":false,"title":null}}}},
{"mark":{"type":"line","color":"#000","strokeWidth":1.1,"clip":true},
"encoding":{"x":{"field":"f","type":"quantitative","scale":{"type":"log","domain":[0.1,30],"nice":false},"axis":{"orient":"bottom","values":[0.1,1,10],"labelExpr":"datum.value==0.1?'10⁻¹':datum.value==1?'10⁰':'10¹'","tickSize":9,"offset":-9,"labelFontSize":20,"labelPadding":11,"labelOffset":{"condition":{"test":"datum.value==0.1","value":7},"value":4},"labelBaseline":"top","labelOverlap":false,"labelBound":false,"labelFlush":false,"title":null}},
"y":{"field":"v","type":"quantitative","scale":{"type":"log","domain":[0.1,1000],"nice":false},"axis":{"orient":"left","values":[0.1,1,10,100,1000],"labelExpr":"datum.value==0.1?'10⁻¹':datum.value==1?'10⁰':datum.value==10?'10¹':datum.value==100?'10²':'10³'","tickSize":10,"offset":-10,"labelFontSize":20,"labelPadding":9,"labelOffset":{"condition":[{"test":"datum.value==1000","value":15},{"test":"datum.value==100","value":12},{"test":"datum.value==10","value":8}],"value":0},"labelAlign":"right","labelBaseline":"middle","labelOverlap":false,"labelBound":false,"labelFlush":false,"title":null}}}},
{"data":{"values":[{}]},"mark":{"type":"text","text":"Manzanillo","fontSize":22,"align":"left","baseline":"alphabetic"},"encoding":{"x":{"datum":0.126,"type":"quantitative","axis":null},"y":{"datum":281,"type":"quantitative","scale":{"type":"log","domain":[0.1,1000],"nice":false},"axis":null}}},
{"data":{"values":[{}]},"mark":{"type":"text","text":"(b)","fontSize":23,"fontWeight":"bold","align":"right","baseline":"alphabetic"},"encoding":{"x":{"datum":26.8,"type":"quantitative","axis":null},"y":{"datum":259,"type":"quantitative","scale":{"type":"log","domain":[0.1,1000],"nice":false},"axis":null}}}
]},
{"width":412,"height":225,"data":{"name":"lazaro"},"resolve":{"scale":{"y":"independent"},"axis":{"x":"independent"}},
"layer":[
{"transform":[{"filter":"datum.f>=0.35&&datum.f<=10.2"}],"mark":{"type":"area","color":"#d0d0d0","clip":true},
"encoding":{"x":{"field":"f","type":"quantitative","scale":{"type":"log","domain":[0.1,30],"nice":false},"axis":{"orient":"bottom","values":[0.2,0.3,0.4,0.5,0.6,0.7,0.8,0.9,2,3,4,5,6,7,8,9,20,30],"labelExpr":"(datum.value==0.2||datum.value==2||datum.value==20)?'2':(datum.value==0.3||datum.value==3||datum.value==30)?'3':(datum.value==0.4||datum.value==4)?'4':(datum.value==0.6||datum.value==6)?'6':''","tickSize":5,"offset":-5,"labelFontSize":14,"labelPadding":6,"labelOverlap":false,"labelBound":false,"labelFlush":false,"title":null}},"y":{"field":"v","type":"quantitative","scale":{"type":"log","domain":[1,1000],"nice":false,"range":[168.75,0],"clamp":true},"axis":null},"y2":{"datum":1}}},
{"data":{"values":[{}]},"mark":{"type":"rule","color":"#808080","strokeDash":[9,6],"strokeWidth":1},"encoding":{"y":{"datum":1,"type":"quantitative","scale":{"type":"log","domain":[0.1,1000],"nice":false},"axis":{"orient":"left","values":[0.2,0.3,0.4,0.5,0.6,0.7,0.8,0.9,2,3,4,5,6,7,8,9,20,30,40,50,60,70,80,90,200,300,400,500,600,700,800,900],"tickSize":5,"offset":-5,"labels":false,"title":null}}}},
{"mark":{"type":"line","color":"#000","strokeWidth":1.1,"clip":true},
"encoding":{"x":{"field":"f","type":"quantitative","scale":{"type":"log","domain":[0.1,30],"nice":false},"axis":{"orient":"bottom","values":[0.1,1,10],"labelExpr":"datum.value==0.1?'10⁻¹':datum.value==1?'10⁰':'10¹'","tickSize":9,"offset":-9,"labelFontSize":20,"labelPadding":11,"labelOffset":{"condition":{"test":"datum.value==0.1","value":7},"value":4},"labelBaseline":"top","labelOverlap":false,"labelBound":false,"labelFlush":false,"title":null}},
"y":{"field":"v","type":"quantitative","scale":{"type":"log","domain":[0.1,1000],"nice":false},"axis":{"orient":"left","values":[0.1,1,10,100,1000],"labelExpr":"datum.value==0.1?'10⁻¹':datum.value==1?'10⁰':datum.value==10?'10¹':datum.value==100?'10²':'10³'","tickSize":10,"offset":-10,"labelFontSize":20,"labelPadding":9,"labelOffset":{"condition":[{"test":"datum.value==1000","value":15},{"test":"datum.value==100","value":12},{"test":"datum.value==10","value":8}],"value":0},"labelAlign":"right","labelBaseline":"middle","labelOverlap":false,"labelBound":false,"labelFlush":false,"title":"Spectral ratio\u00a0 (tsunami/background)","titleFontSize":27.5,"titleX":-67,"titleY":127,"titleAngle":270,"titleAlign":"center","titleBaseline":"alphabetic"}}}},
{"data":{"values":[{}]},"mark":{"type":"text","text":"Lazaro Cardenas","fontSize":22,"align":"left","baseline":"alphabetic"},"encoding":{"x":{"datum":0.126,"type":"quantitative","axis":null},"y":{"datum":281,"type":"quantitative","scale":{"type":"log","domain":[0.1,1000],"nice":false},"axis":null}}},
{"data":{"values":[{}]},"mark":{"type":"text","text":"(c)","fontSize":23,"fontWeight":"bold","align":"right","baseline":"alphabetic"},"encoding":{"x":{"datum":25.2,"type":"quantitative","axis":null},"y":{"datum":259,"type":"quantitative","scale":{"type":"log","domain":[0.1,1000],"nice":false},"axis":null}}}
]},
{"width":412,"height":225,"data":{"name":"zihuatanejo"},"resolve":{"scale":{"y":"independent"},"axis":{"x":"independent"}},
"layer":[
{"transform":[{"filter":"datum.f>=0.46&&datum.f<=11.1"}],"mark":{"type":"area","color":"#d0d0d0","clip":true},
"encoding":{"x":{"field":"f","type":"quantitative","scale":{"type":"log","domain":[0.1,30],"nice":false},"axis":{"orient":"bottom","values":[0.2,0.3,0.4,0.5,0.6,0.7,0.8,0.9,2,3,4,5,6,7,8,9,20,30],"labelExpr":"(datum.value==0.2||datum.value==2||datum.value==20)?'2':(datum.value==0.3||datum.value==3||datum.value==30)?'3':(datum.value==0.4||datum.value==4)?'4':(datum.value==0.6||datum.value==6)?'6':''","tickSize":5,"offset":-5,"labelFontSize":14,"labelPadding":6,"labelOverlap":false,"labelBound":false,"labelFlush":false,"title":null}},"y":{"field":"v","type":"quantitative","scale":{"type":"log","domain":[1,1000],"nice":false,"range":[168.75,0],"clamp":true},"axis":null},"y2":{"datum":1}}},
{"data":{"values":[{}]},"mark":{"type":"rule","color":"#808080","strokeDash":[9,6],"strokeWidth":1},"encoding":{"y":{"datum":1,"type":"quantitative","scale":{"type":"log","domain":[0.1,1000],"nice":false},"axis":{"orient":"left","values":[0.2,0.3,0.4,0.5,0.6,0.7,0.8,0.9,2,3,4,5,6,7,8,9,20,30,40,50,60,70,80,90,200,300,400,500,600,700,800,900],"tickSize":5,"offset":-5,"labels":false,"title":null}}}},
{"mark":{"type":"line","color":"#000","strokeWidth":1.1,"clip":true},
"encoding":{"x":{"field":"f","type":"quantitative","scale":{"type":"log","domain":[0.1,30],"nice":false},"axis":{"orient":"bottom","values":[0.1,1,10],"labelExpr":"datum.value==0.1?'10⁻¹':datum.value==1?'10⁰':'10¹'","tickSize":9,"offset":-9,"labelFontSize":20,"labelPadding":11,"labelOffset":{"condition":{"test":"datum.value==0.1","value":7},"value":4},"labelBaseline":"top","labelOverlap":false,"labelBound":false,"labelFlush":false,"title":null}},
"y":{"field":"v","type":"quantitative","scale":{"type":"log","domain":[0.1,1000],"nice":false},"axis":{"orient":"left","values":[0.1,1,10,100,1000],"labelExpr":"datum.value==0.1?'10⁻¹':datum.value==1?'10⁰':datum.value==10?'10¹':datum.value==100?'10²':'10³'","tickSize":10,"offset":-10,"labelFontSize":20,"labelPadding":9,"labelOffset":{"condition":[{"test":"datum.value==1000","value":15},{"test":"datum.value==100","value":12},{"test":"datum.value==10","value":8}],"value":0},"labelAlign":"right","labelBaseline":"middle","labelOverlap":false,"labelBound":false,"labelFlush":false,"title":null}}}},
{"data":{"values":[{}]},"mark":{"type":"text","text":"Zihuatanejo","fontSize":22,"align":"left","baseline":"alphabetic"},"encoding":{"x":{"datum":0.126,"type":"quantitative","axis":null},"y":{"datum":281,"type":"quantitative","scale":{"type":"log","domain":[0.1,1000],"nice":false},"axis":null}}},
{"data":{"values":[{}]},"mark":{"type":"text","text":"(d)","fontSize":23,"fontWeight":"bold","align":"right","baseline":"alphabetic"},"encoding":{"x":{"datum":26.8,"type":"quantitative","axis":null},"y":{"datum":259,"type":"quantitative","scale":{"type":"log","domain":[0.1,1000],"nice":false},"axis":null}}}
]},
{"width":412,"height":225,"data":{"name":"acapulco"},"resolve":{"scale":{"y":"independent"},"axis":{"x":"independent"}},
"layer":[
{"transform":[{"filter":"datum.f>=0.34&&datum.f<=10.6"}],"mark":{"type":"area","color":"#d0d0d0","clip":true},
"encoding":{"x":{"field":"f","type":"quantitative","scale":{"type":"log","domain":[0.1,30],"nice":false},"axis":{"orient":"bottom","values":[0.2,0.3,0.4,0.5,0.6,0.7,0.8,0.9,2,3,4,5,6,7,8,9,20,30],"labelExpr":"(datum.value==0.2||datum.value==2||datum.value==20)?'2':(datum.value==0.3||datum.value==3||datum.value==30)?'3':(datum.value==0.4||datum.value==4)?'4':(datum.value==0.6||datum.value==6)?'6':''","tickSize":5,"offset":-5,"labelFontSize":14,"labelPadding":6,"labelOverlap":false,"labelBound":false,"labelFlush":false,"title":null}},"y":{"field":"v","type":"quantitative","scale":{"type":"log","domain":[1,1000],"nice":false,"range":[168.75,0],"clamp":true},"axis":null},"y2":{"datum":1}}},
{"data":{"values":[{}]},"mark":{"type":"rule","color":"#808080","strokeDash":[9,6],"strokeWidth":1},"encoding":{"y":{"datum":1,"type":"quantitative","scale":{"type":"log","domain":[0.1,1000],"nice":false},"axis":{"orient":"left","values":[0.2,0.3,0.4,0.5,0.6,0.7,0.8,0.9,2,3,4,5,6,7,8,9,20,30,40,50,60,70,80,90,200,300,400,500,600,700,800,900],"tickSize":5,"offset":-5,"labels":false,"title":null}}}},
{"mark":{"type":"line","color":"#000","strokeWidth":1.1,"clip":true},
"encoding":{"x":{"field":"f","type":"quantitative","scale":{"type":"log","domain":[0.1,30],"nice":false},"axis":{"orient":"bottom","values":[0.1,1,10],"labelExpr":"datum.value==0.1?'10⁻¹':datum.value==1?'10⁰':'10¹'","tickSize":9,"offset":-9,"labelFontSize":20,"labelPadding":11,"labelOffset":{"condition":{"test":"datum.value==0.1","value":7},"value":4},"labelBaseline":"top","labelOverlap":false,"labelBound":false,"labelFlush":false,"title":"Frequency\u00a0 (cph)","titleFontSize":27,"titleX":444,"titleY":73,"titleAlign":"center","titleBaseline":"alphabetic"}},
"y":{"field":"v","type":"quantitative","scale":{"type":"log","domain":[0.1,1000],"nice":false},"axis":{"orient":"left","values":[0.1,1,10,100,1000],"labelExpr":"datum.value==0.1?'10⁻¹':datum.value==1?'10⁰':datum.value==10?'10¹':datum.value==100?'10²':'10³'","tickSize":10,"offset":-10,"labelFontSize":20,"labelPadding":9,"labelOffset":{"condition":[{"test":"datum.value==1000","value":15},{"test":"datum.value==100","value":12},{"test":"datum.value==10","value":8}],"value":0},"labelAlign":"right","labelBaseline":"middle","labelOverlap":false,"labelBound":false,"labelFlush":false,"title":null}}}},
{"data":{"values":[{}]},"mark":{"type":"text","text":"Acapulco","fontSize":22,"align":"left","baseline":"alphabetic"},"encoding":{"x":{"datum":0.126,"type":"quantitative","axis":null},"y":{"datum":281,"type":"quantitative","scale":{"type":"log","domain":[0.1,1000],"nice":false},"axis":null}}},
{"data":{"values":[{}]},"mark":{"type":"text","text":"(e)","fontSize":23,"fontWeight":"bold","align":"right","baseline":"alphabetic"},"encoding":{"x":{"datum":25.2,"type":"quantitative","axis":null},"y":{"datum":259,"type":"quantitative","scale":{"type":"log","domain":[0.1,1000],"nice":false},"axis":null}}}
]},
{"width":412,"height":225,"data":{"name":"huatulco"},"resolve":{"scale":{"y":"independent"},"axis":{"x":"independent"}},
"layer":[
{"transform":[{"filter":"datum.f>=0.46"}],"mark":{"type":"area","color":"#d0d0d0","clip":true},
"encoding":{"x":{"field":"f","type":"quantitative","scale":{"type":"log","domain":[0.1,30],"nice":false},"axis":{"orient":"bottom","values":[0.2,0.3,0.4,0.5,0.6,0.7,0.8,0.9,2,3,4,5,6,7,8,9,20,30],"labelExpr":"(datum.value==0.2||datum.value==2||datum.value==20)?'2':(datum.value==0.3||datum.value==3||datum.value==30)?'3':(datum.value==0.4||datum.value==4)?'4':(datum.value==0.6||datum.value==6)?'6':''","tickSize":5,"offset":-5,"labelFontSize":14,"labelPadding":6,"labelOverlap":false,"labelBound":false,"labelFlush":false,"title":null}},"y":{"field":"v","type":"quantitative","scale":{"type":"log","domain":[1,1000],"nice":false,"range":[168.75,0],"clamp":true},"axis":null},"y2":{"datum":1}}},
{"data":{"values":[{}]},"mark":{"type":"rule","color":"#808080","strokeDash":[9,6],"strokeWidth":1},"encoding":{"y":{"datum":1,"type":"quantitative","scale":{"type":"log","domain":[0.1,1000],"nice":false},"axis":{"orient":"left","values":[0.2,0.3,0.4,0.5,0.6,0.7,0.8,0.9,2,3,4,5,6,7,8,9,20,30,40,50,60,70,80,90,200,300,400,500,600,700,800,900],"tickSize":5,"offset":-5,"labels":false,"title":null}}}},
{"mark":{"type":"line","color":"#000","strokeWidth":1.1,"clip":true},
"encoding":{"x":{"field":"f","type":"quantitative","scale":{"type":"log","domain":[0.1,30],"nice":false},"axis":{"orient":"bottom","values":[0.1,1,10],"labelExpr":"datum.value==0.1?'10⁻¹':datum.value==1?'10⁰':'10¹'","tickSize":9,"offset":-9,"labelFontSize":20,"labelPadding":11,"labelOffset":{"condition":{"test":"datum.value==0.1","value":7},"value":4},"labelBaseline":"top","labelOverlap":false,"labelBound":false,"labelFlush":false,"title":null}},
"y":{"field":"v","type":"quantitative","scale":{"type":"log","domain":[0.1,1000],"nice":false},"axis":{"orient":"left","values":[0.1,1,10,100,1000],"labelExpr":"datum.value==0.1?'10⁻¹':datum.value==1?'10⁰':datum.value==10?'10¹':datum.value==100?'10²':'10³'","tickSize":10,"offset":-10,"labelFontSize":20,"labelPadding":9,"labelOffset":{"condition":[{"test":"datum.value==1000","value":15},{"test":"datum.value==100","value":12},{"test":"datum.value==10","value":8}],"value":0},"labelAlign":"right","labelBaseline":"middle","labelOverlap":false,"labelBound":false,"labelFlush":false,"title":null}}}},
{"data":{"values":[{}]},"mark":{"type":"text","text":"Huatulco","fontSize":22,"align":"left","baseline":"alphabetic"},"encoding":{"x":{"datum":0.126,"type":"quantitative","axis":null},"y":{"datum":281,"type":"quantitative","scale":{"type":"log","domain":[0.1,1000],"nice":false},"axis":null}}},
{"data":{"values":[{}]},"mark":{"type":"text","text":"(f)","fontSize":23,"fontWeight":"bold","align":"right","baseline":"alphabetic"},"encoding":{"x":{"datum":25.4,"type":"quantitative","axis":null},"y":{"datum":259,"type":"quantitative","scale":{"type":"log","domain":[0.1,1000],"nice":false},"axis":null}}}
]}
],
"config":{
"font":"Liberation Sans",
"view":{"stroke":"#222","strokeWidth":1.3},
"axis":{"domain":false,"grid":false,"labelColor":"#111","tickColor":"#222","tickWidth":1.1,"titleColor":"#111","titleFontWeight":"normal","labelFont":"Liberation Sans","titleFont":"Liberation Sans"},
"text":{"font":"Liberation Sans","color":"#111"}
}
}
